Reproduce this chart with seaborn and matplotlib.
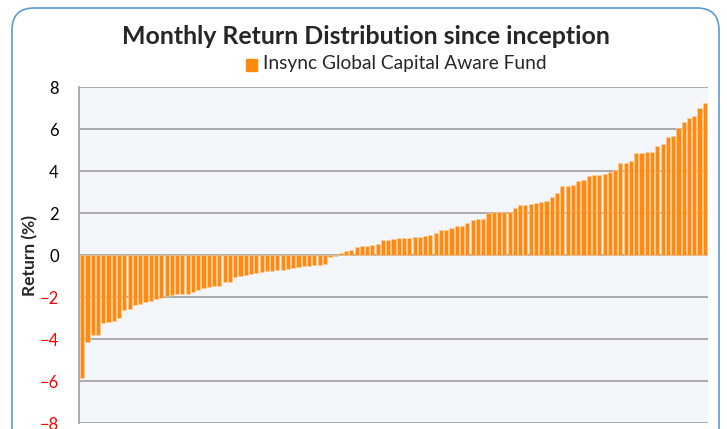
import numpy as np
import pandas as pd
import matplotlib
matplotlib.use("Agg")
import matplotlib.pyplot as plt
import seaborn as sns
from matplotlib.patches import FancyBboxPatch, Rectangle

# monthly returns, sorted
neg_returns = [-5.86, -4.14, -3.83, -3.83, -3.24, -3.21, -3.14, -3.02, -2.62, -2.57,
               -2.38, -2.32, -2.22, -2.21, -2.08, -2.05, -1.97, -1.92, -1.87, -1.86,
               -1.84, -1.76, -1.68, -1.59, -1.52, -1.48, -1.46, -1.30, -1.27, -1.03,
               -0.98, -0.97, -0.92, -0.87, -0.79, -0.78, -0.75, -0.73, -0.70, -0.67,
               -0.63, -0.57, -0.54, -0.51, -0.49, -0.49, -0.44, -0.08, -0.03]
pos_returns = [0.11, 0.19, 0.24, 0.40, 0.44, 0.44, 0.46, 0.51, 0.70, 0.70,
               0.76, 0.81, 0.82, 0.83, 0.86, 0.87, 0.89, 0.94, 1.05, 1.19,
               1.21, 1.27, 1.37, 1.37, 1.51, 1.65, 1.73, 1.73, 2.02, 2.03,
               2.03, 2.05, 2.05, 2.22, 2.37, 2.38, 2.43, 2.48, 2.51, 2.57,
               2.76, 2.97, 3.29, 3.29, 3.32, 3.51, 3.56, 3.75, 3.79, 3.81,
               3.86, 3.94, 4.06, 4.37, 4.37, 4.48, 4.86, 4.86, 4.90, 4.90,
               5.19, 5.30, 5.60, 5.68, 6.03, 6.33, 6.52, 6.62, 7.00, 7.25]
returns = neg_returns + pos_returns
yticks = [-8, -6, -4, -2, 0, 2, 4, 6, 8]
series_name = "Insync Global Capital Aware Fund"

df = pd.DataFrame({"month": range(len(returns)), "ret": returns})

sns.set_style("white")
plt.rcParams["font.family"] = ["Lato", "DejaVu Sans"]

fig = plt.figure(figsize=(7.27, 4.29), dpi=100)
ax = fig.add_axes([79 / 727, 6 / 429, 629 / 727, 336 / 429])
ax.set_facecolor("#F3F6FB")

sns.barplot(data=df, x="month", y="ret", color="#FF8A0D", saturation=1,
            width=0.78, edgecolor="#FFD2A6", linewidth=0.4, ax=ax)

ax.set_ylim(-8, 8)
ax.set_xlim(-0.6, len(returns) - 0.4)
ax.set_yticks(yticks)
ax.set_xticks([])
ax.set_xlabel("")
ax.set_ylabel("")
for y in yticks:
    ax.axhline(y, color="#A6A6A6", lw=1.3, zorder=0)
ax.set_axisbelow(True)
for s in ["top", "right", "bottom"]:
    ax.spines[s].set_visible(False)
ax.spines["left"].set_color("#A6A6A6")
ax.spines["left"].set_linewidth(1.3)
ax.tick_params(axis="y", length=4.5, width=1.2, color="#A6A6A6", labelsize=12, pad=10)
for lab, v in zip(ax.get_yticklabels(), yticks):
    lab.set_color("red" if v < 0 else "black")

fig.text(30 / 727, 1 - 255 / 429, "Return (%)", rotation=90, ha="center", va="center",
         fontsize=12.5, fontweight="bold")
fig.text(366 / 727, 1 - 37 / 429, "Monthly Return Distribution since inception",
         ha="center", va="center", fontsize=17.9, fontweight="bold")
fig.patches.append(Rectangle((246 / 727, 1 - 71 / 429), 11 / 727, 12 / 429,
                             transform=fig.transFigure, color="#FF8A0D"))
fig.text(263 / 727, 1 - 64 / 429, series_name, ha="left", va="center", fontsize=13.8)

frame = FancyBboxPatch((12, -40), 707, 461, boxstyle="round,pad=0,rounding_size=22",
                       transform=None, fill=False, edgecolor="#5B9BD5", lw=1.2)
fig.patches.append(frame)

fig.savefig("out.png", dpi=100)
